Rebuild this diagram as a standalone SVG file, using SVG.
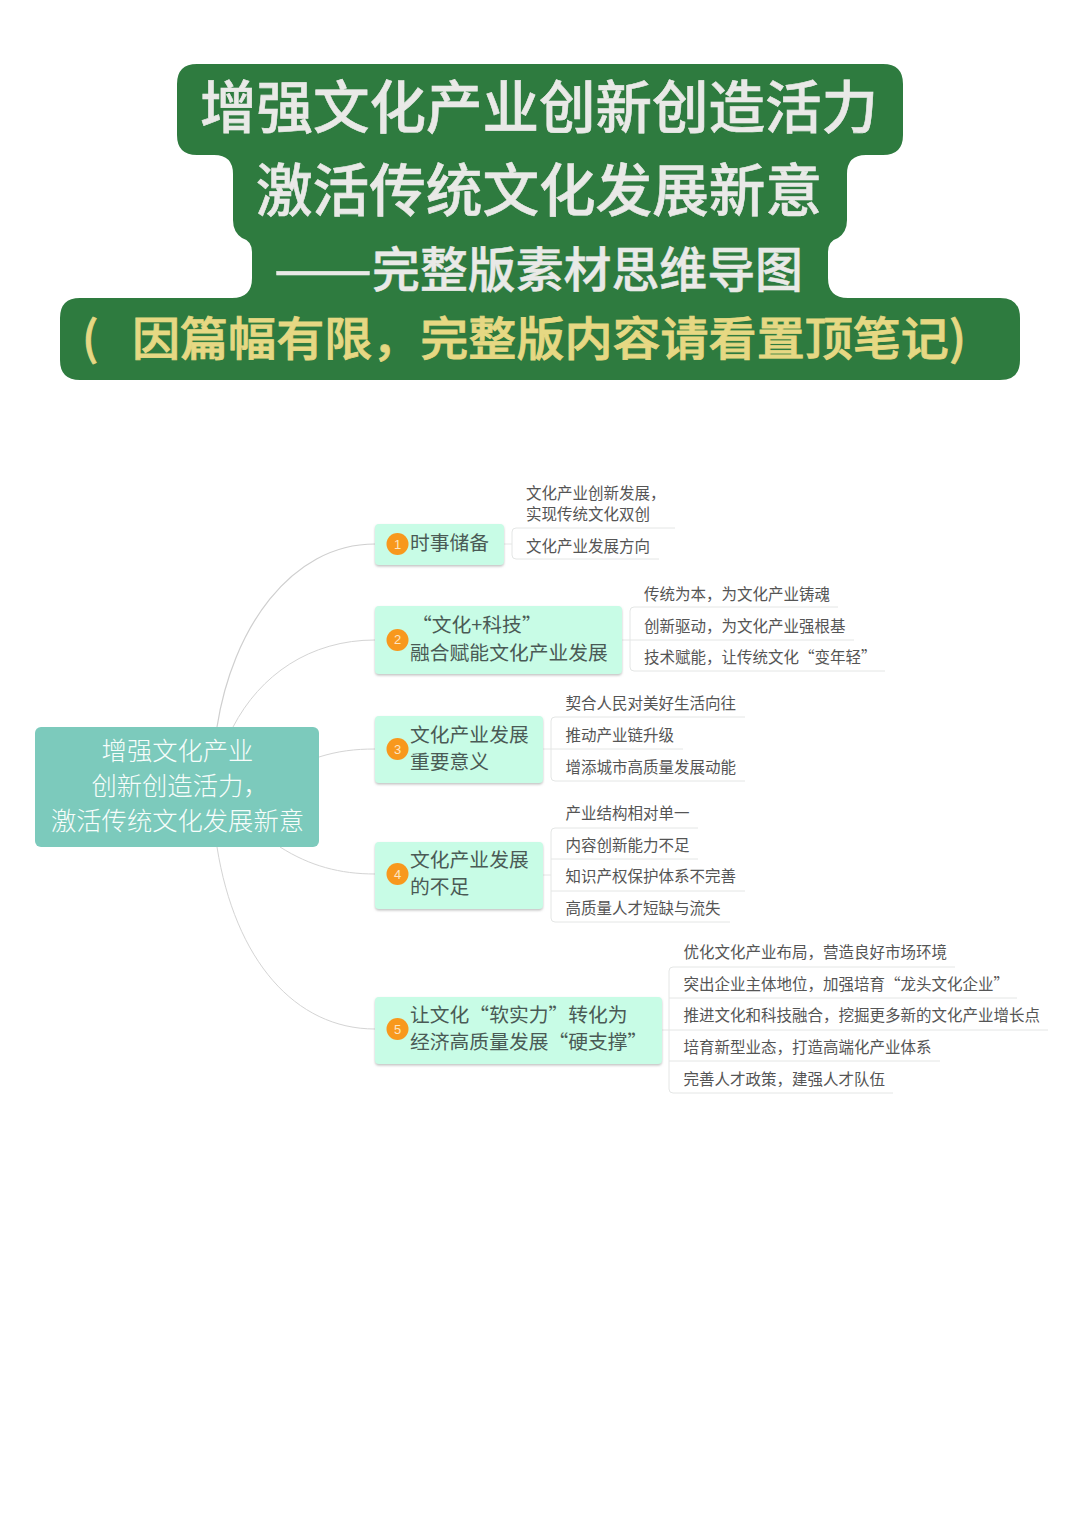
<svg xmlns="http://www.w3.org/2000/svg" width="1080" height="1528" viewBox="0 0 1080 1528">
<style>
text{font-family:"Noto Sans CJK SC","Noto Sans",sans-serif}
.t1{font-size:56.5px;font-weight:500;fill:#e9e9e7;text-anchor:middle;stroke:#e9e9e7;stroke-width:.6}
.t2{font-size:48px;font-weight:500;fill:#e9e9e7;stroke:#e9e9e7;stroke-width:.5}
.t3{font-size:46px;font-weight:500;fill:#e6d883;stroke:#e6d883;stroke-width:.8}
.b{fill:#c8fce6;filter:url(#sh)}
.bt{font-size:19.8px;fill:#4a5a55}
.n{font-size:13px;fill:#fde6c4;text-anchor:middle;font-family:"Liberation Sans",sans-serif}
.c{fill:#f8981d}
.l{font-size:15.5px;fill:#555}
.r{font-size:25.3px;fill:#f7fdfb;text-anchor:middle;font-weight:300}
.w{fill:none;stroke:#d4d4d4;stroke-width:1}
.w2{fill:none;stroke:#cfcfcf;stroke-width:1.2}
.w3{fill:none;stroke:#e4e6e5;stroke-width:1}
</style>
<defs><filter id="sh" x="-5%" y="-10%" width="110%" height="125%"><feDropShadow dx="0" dy="1.5" stdDeviation="1" flood-color="#999" flood-opacity=".6"/></filter></defs>
<rect width="1080" height="1528" fill="#fff"/>
<g id="banner">
<path fill="#2e7b3f" d="M197 64H883Q903 64 903 84V135Q903 155 883 155H866Q847 155 847 174V220Q847 232 838 238Q828 241 828 252V278Q828 298 848 298H1000Q1020 298 1020 318V360Q1020 380 1000 380H80Q60 380 60 360V318Q60 298 80 298H232Q252 298 252 278V252Q252 241 242 238Q233 232 233 220V174Q233 155 214 155H197Q177 155 177 135V84Q177 64 197 64Z"/>
<text class="t1" x="539" y="128" textLength="678" lengthAdjust="spacingAndGlyphs">增强文化产业创新创造活力</text>
<text class="t1" x="539" y="211" textLength="566" lengthAdjust="spacingAndGlyphs">激活传统文化发展新意</text>
<text class="t2" x="274" y="287" textLength="98" lengthAdjust="spacingAndGlyphs">——</text>
<text class="t2" x="372" y="287" textLength="431" lengthAdjust="spacingAndGlyphs">完整版素材思维导图</text>
<text class="t3" x="82" y="355">(</text>
<text class="t3" x="132" y="355" textLength="834" lengthAdjust="spacingAndGlyphs">因篇幅有限，完整版内容请看置顶笔记)</text>
</g>
<g id="connectors">
<path class="w2" d="M217 727C232 630 290 544 375 544"/>
<path class="w" d="M233 727C260 675 310 640 375 640"/>
<path class="w" d="M319 757C338 751 355 749 375 749"/>
<path class="w" d="M280 847C310 866 340 874 375 874"/>
<path class="w" d="M217 847C235 960 295 1029 375 1029"/>
<path class="w3" d="M504 544H512M622 640H630M543 749H551M543 875H551M662 1030H669"/>
<path class="w3" d="M675 528H516Q512 528 512 532V555Q512 559 516 559H659"/>
<path class="w3" d="M838 607H634Q630 607 630 611V667Q630 671 634 671H885M630 640H854"/>
<path class="w3" d="M745 717H555Q551 717 551 721V777Q551 781 555 781H745M551 749H683"/>
<path class="w3" d="M698 828H555Q551 828 551 832V918Q551 922 555 922H730M551 859H698M551 891H745"/>
<path class="w3" d="M955 967H673Q669 967 669 971V1089Q669 1093 673 1093H893M669 998H1017M669 1030H1048M669 1061H940"/>
</g>
<g id="root">
<rect x="35" y="727" width="284" height="120" rx="6" fill="#7ccabc"/>
<text class="r" x="177.500" y="760">增强文化产业</text>
<text class="r" x="180" y="795">创新创造活力，</text>
<text class="r" x="177.500" y="830">激活传统文化发展新意</text>
</g>
<g id="node1">
<rect class="b" x="375" y="524" width="129" height="41" rx="4"/>
<circle class="c" cx="397.500" cy="544" r="11"/><text class="n" x="397.500" y="549">1</text>
<text class="bt" x="410" y="550">时事储备</text>
<text class="l" x="526" y="499">文化产业创新发展，</text>
<text class="l" x="526" y="520">实现传统文化双创</text>
<text class="l" x="526" y="552">文化产业发展方向</text>
</g>
<g id="node2">
<rect class="b" x="375" y="606" width="247" height="68" rx="4"/>
<circle class="c" cx="397.500" cy="640" r="11"/><text class="n" x="397.500" y="644">2</text>
<text class="bt" x="412" y="632">  “文化+科技”</text>
<text class="bt" x="410" y="660">融合赋能文化产业发展</text>
<text class="l" x="644" y="600">传统为本，为文化产业铸魂</text>
<text class="l" x="644" y="632">创新驱动，为文化产业强根基</text>
<text class="l" x="644" y="663">技术赋能，让传统文化“变年轻”</text>
</g>
<g id="node3">
<rect class="b" x="375" y="716" width="168" height="67" rx="4"/>
<circle class="c" cx="397.500" cy="749" r="11"/><text class="n" x="397.500" y="754">3</text>
<text class="bt" x="410" y="742">文化产业发展</text>
<text class="bt" x="410" y="769">重要意义</text>
<text class="l" x="565.500" y="709">契合人民对美好生活向往</text>
<text class="l" x="565.500" y="741">推动产业链升级</text>
<text class="l" x="565.500" y="773">增添城市高质量发展动能</text>
</g>
<g id="node4">
<rect class="b" x="375" y="842" width="168" height="67" rx="4"/>
<circle class="c" cx="397.500" cy="874" r="11"/><text class="n" x="397.500" y="879">4</text>
<text class="bt" x="410" y="867">文化产业发展</text>
<text class="bt" x="410" y="894">的不足</text>
<text class="l" x="565.500" y="819">产业结构相对单一</text>
<text class="l" x="565.500" y="851">内容创新能力不足</text>
<text class="l" x="565.500" y="882">知识产权保护体系不完善</text>
<text class="l" x="565.500" y="914">高质量人才短缺与流失</text>
</g>
<g id="node5">
<rect class="b" x="375" y="997" width="287" height="67" rx="4"/>
<circle class="c" cx="397.500" cy="1029" r="11"/><text class="n" x="397.500" y="1034">5</text>
<text class="bt" x="410" y="1022">让文化“软实力”转化为</text>
<text class="bt" x="410" y="1049">经济高质量发展“硬支撑”</text>
<text class="l" x="683.500" y="958">优化文化产业布局，营造良好市场环境</text>
<text class="l" x="683.500" y="990">突出企业主体地位，加强培育“龙头文化企业”</text>
<text class="l" x="683.500" y="1021">推进文化和科技融合，挖掘更多新的文化产业增长点</text>
<text class="l" x="683.500" y="1053">培育新型业态，打造高端化产业体系</text>
<text class="l" x="683.500" y="1085">完善人才政策，建强人才队伍</text>
</g>
</svg>
